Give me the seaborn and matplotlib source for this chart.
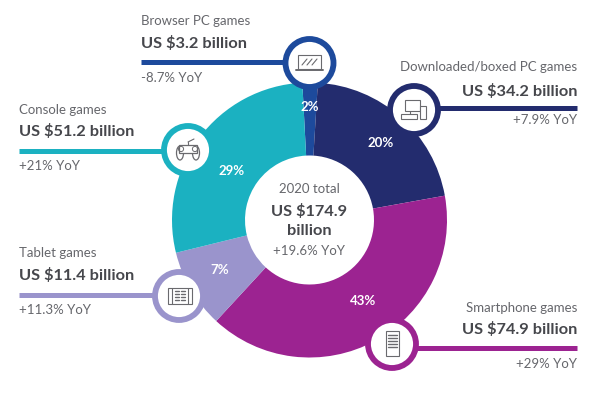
import matplotlib.pyplot as plt
from matplotlib.patches import Circle, Ellipse, Rectangle
import seaborn as sns

# Datos (la parte dibujada de cada segmento, en %)
segments = ['Browser PC games', 'Downloaded/boxed PC games', 'Smartphone games',
            'Tablet games', 'Console games']
drawn_share = [1.8, 21.2, 39.7, 9.3, 28.0]
pct_labels = ['2%', '20%', '43%', '7%', '29%']
values = ['US $3.2 billion', 'US $34.2 billion', 'US $74.9 billion',
          'US $11.4 billion', 'US $51.2 billion']
yoy = ['-8.7% YoY', '+7.9% YoY', '+29% YoY', '+11.3% YoY', '+21% YoY']
colors = ['#1D4A9C', '#232C6E', '#9C2391', '#9A94CC', '#1BB1C1']

DARK = '#46474C'
GREY = '#66676C'
ICON = '#6A6A6E'

sns.set_theme(style='white')
plt.rcParams['font.family'] = ['Lato', 'DejaVu Sans']

fig = plt.figure(figsize=(6.02, 3.93), dpi=100)
ax = fig.add_axes([0, 0, 1, 1])

# Donut (el eje y está invertido, por eso counterclock=True gira en sentido horario)
labels_iter = iter(pct_labels)
wedges, _, autotexts = ax.pie(
    drawn_share, colors=colors, center=(309.5, 220), radius=137.5,
    startangle=-93, counterclock=True, frame=True,
    wedgeprops={'width': 73, 'linewidth': 0},
    autopct=lambda p: next(labels_iter), pctdistance=0.74,
    textprops={'color': 'white', 'fontsize': 9.5, 'fontweight': 'bold'})

# Las etiquetas no están centradas en su segmento en el original
label_xy = [(310, 107), (381, 143), (363, 301), (220, 270), (232, 171)]
for t, xy in zip(autotexts, label_xy):
    t.set_position(xy)

ax.set_xlim(0, 602)
ax.set_ylim(393, 0)
ax.set_aspect('equal')
ax.axis('off')

# Texto central
ax.text(309, 189, '2020 total', ha='center', va='center', fontsize=9.5, color=GREY)
ax.text(309, 211, 'US $174.9', ha='center', va='center', fontsize=11.8, fontweight='bold', color=DARK)
ax.text(309, 231, 'billion', ha='center', va='center', fontsize=11.8, fontweight='bold', color=DARK)
ax.text(309, 251, '+19.6% YoY', ha='center', va='center', fontsize=9.5, color=GREY)

# Posición de cada llamada: anclaje del texto, línea, anillo y filas de texto
callouts = [
    {'ha': 'left', 'x': 141, 'line': (141, 290, 62), 'ring': (309.5, 63), 'rows': (21, 44, 78)},
    {'ha': 'right', 'x': 577, 'line': (436, 577, 107.5), 'ring': (414, 110), 'rows': (67, 91, 120)},
    {'ha': 'right', 'x': 577, 'line': (414, 577, 348), 'ring': (392, 344), 'rows': (308, 330, 364)},
    {'ha': 'left', 'x': 19, 'line': (19, 160, 294.5), 'ring': (179, 296), 'rows': (253, 276, 310)},
    {'ha': 'left', 'x': 19, 'line': (19, 168, 151), 'ring': (188, 150), 'rows': (110, 132, 166)},
]

for name, value, change, color, c in zip(segments, values, yoy, colors, callouts):
    x0, x1, y = c['line']
    ax.plot([x0, x1], [y, y], color=color, lw=3.6, solid_capstyle='butt', zorder=3)
    ax.add_patch(Circle(c['ring'], 24, facecolor='white', edgecolor=color, lw=4.2, zorder=4))
    r1, r2, r3 = c['rows']
    ax.text(c['x'], r1, name, ha=c['ha'], va='center', fontsize=9.5, color=GREY)
    ax.text(c['x'], r2, value, ha=c['ha'], va='center', fontsize=11.8, fontweight='bold', color=DARK)
    ax.text(c['x'], r3, change, ha=c['ha'], va='center', fontsize=9.5, color=GREY)


def box(x, y, w, h, lw=0.8):
    ax.add_patch(Rectangle((x, y), w, h, facecolor='white', edgecolor=ICON, lw=lw, zorder=5))


def seg(x0, y0, x1, y1, lw=0.8):
    ax.plot([x0, x1], [y0, y1], color=ICON, lw=lw, zorder=6)


# Portátil
box(298, 55, 23, 14)
seg(296, 70, 323, 70, 1.4)
for dx in (0, 5, 10):
    seg(302 + dx, 65, 307 + dx, 59)

# Ordenador y torre
box(405, 100, 15, 11)
box(420, 106, 6, 13)
box(401, 114, 16, 5)
seg(410, 111, 410, 114)

# Mando
for cx in (180, 196):
    ax.add_patch(Ellipse((cx, 153), 7, 14, facecolor='white', edgecolor=ICON, lw=0.9, zorder=5))
ax.add_patch(Rectangle((179, 145), 18, 8, facecolor='white', edgecolor=ICON, lw=0.9, zorder=5))
for cx in (181, 195):
    ax.add_patch(Circle((cx, 149), 2.6, facecolor='none', edgecolor=ICON, lw=0.7, zorder=6))
seg(188, 145, 188, 142)
seg(188, 142, 194, 139)

# Tableta
box(168, 288, 24, 16)
seg(172, 288, 172, 304)
seg(188, 288, 188, 304)
for i in range(4):
    seg(175, 291 + i * 3, 179, 291 + i * 3, 1.0)
    seg(181, 291 + i * 3, 185, 291 + i * 3, 1.0)

# Móvil
box(386, 331, 13, 25)
for i in range(5):
    seg(388, 335 + i * 3, 397, 335 + i * 3, 1.0)

fig.savefig('out.png', dpi=100, facecolor='white')
